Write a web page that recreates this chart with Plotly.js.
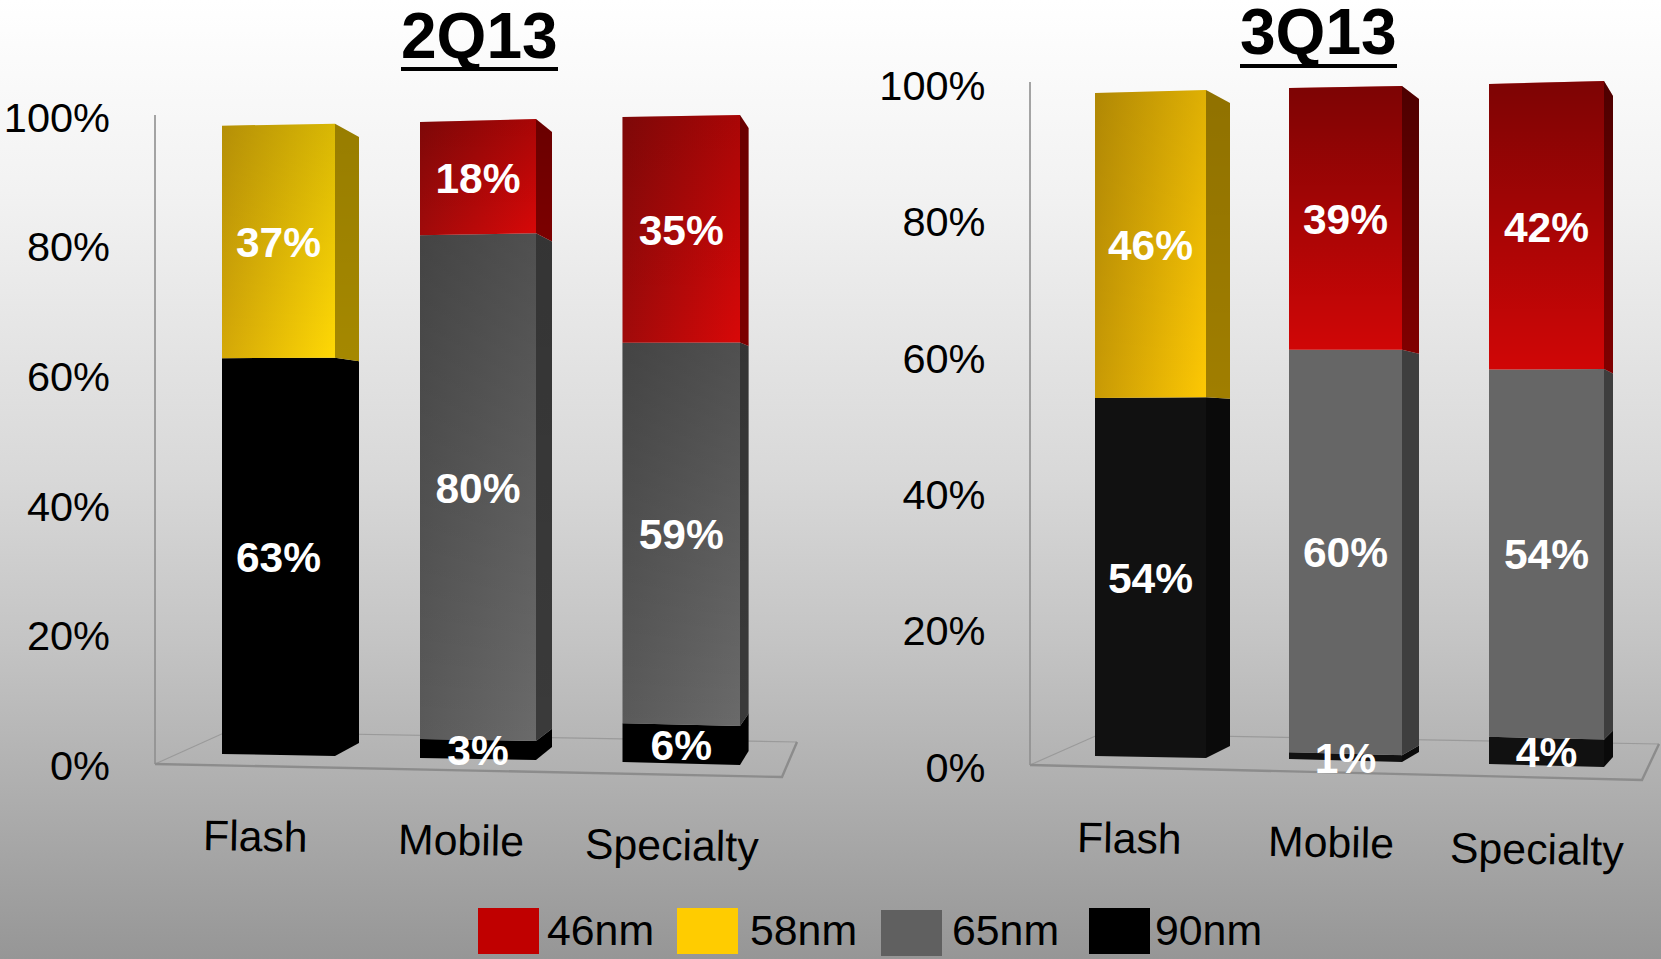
<!DOCTYPE html>
<html>
<head>
<meta charset="utf-8">
<script src="https://cdn.plot.ly/plotly-3.0.1.min.js"></script>
<style>
html,body{margin:0;padding:0;width:1661px;height:959px;overflow:hidden;
background:linear-gradient(to bottom,#ffffff 0%,#f2f2f2 20%,#d8d8d8 50%,#c4c4c4 67%,#969696 100%);}
#chart{width:1661px;height:959px;}
</style>
</head>
<body>
<div id="chart"></div>
<script>
// ---- data ----
const categories = ["Flash", "Mobile", "Specialty"];
const technologies = ["46nm", "58nm", "65nm", "90nm"];
const tickValues = [0, 20, 40, 60, 80, 100];
const tickLabels = ["0%", "20%", "40%", "60%", "80%", "100%"];
const q2_46nm = [null, 18, 35];
const q2_58nm = [37, null, null];
const q2_65nm = [null, 80, 59];
const q2_90nm = [63, 3, 6];
const q3_46nm = [null, 39, 42];
const q3_58nm = [46, null, null];
const q3_65nm = [null, 60, 54];
const q3_90nm = [54, 1, 4];

// ---- page layout (pixels of the 1661x959 page) ----
const W = 1661, H = 959;
const FONT = '"Liberation Sans", Arial, sans-serif';
const legendSwatches = [[478, 539, 908, 954, 548], [677, 738, 908, 954, 751], [881, 942, 910, 956, 953], [1089, 1150, 908, 954, 1156]];
const swatchColors = ["#C00000", "#FFCC00", "#606060", "#000000"];

// perspective box of each column: front left, front right, back right; y of bottom and top at each of those
const panels = [
  {
    title: "2Q13", titleX: 479, titleY: 35.5, rule: [401, 558, 69],
    xaxis: "x", yaxis: "y", xName: "xaxis", yName: "yaxis", left: 111, right: 830,
    zero: 764, full: 115, tickZero: 765.2, tickFull: 117.2,
    floor: {front: [[155, 764], [782, 777], [797, 742]], back: [[155, 764], [226, 732], [797, 742]]},
    series: [q2_90nm, q2_65nm, q2_58nm, q2_46nm],
    boxes: [
      {L: 222, R: 335, S: 359, bot: [754, 756, 743], top: [125.7, 123.7, 137]},
      {L: 420, R: 536, S: 552, bot: [758, 760, 747], top: [122, 119, 132]},
      {L: 622.5, R: 740, S: 748.6, bot: [762, 765, 751], top: [117, 115, 128]}
    ],
    labels: [[255.7, 836], [461, 840], [672, 845]],
    style: [
      {grad: ["#000000", "#000000"], shade: 0, side: "#000000", sideShade: 0},
      {grad: ["#5a5a5a", "#6a6a6a"], shade: 0.25, side: "#3a3a3a", sideShade: 0.1},
      {grad: ["#d4a808", "#ffd805"], shade: 0.15, side: "#a58800", sideShade: 0.08},
      {grad: ["#a00a0a", "#d80808"], shade: 0.22, side: "#7c0000", sideShade: 0.15}
    ]
  },
  {
    title: "3Q13", titleX: 1318, titleY: 32, rule: [1240, 1397, 66],
    xaxis: "x2", yaxis: "y2", xName: "xaxis2", yName: "yaxis2", left: 986.5, right: 1661,
    zero: 765, full: 82, tickZero: 767.4, tickFull: 85.2,
    floor: {front: [[1030, 765], [1642, 780], [1659, 744]], back: [[1030, 765], [1100, 734], [1659, 744]]},
    series: [q3_90nm, q3_65nm, q3_58nm, q3_46nm],
    boxes: [
      {L: 1095, R: 1206, S: 1230, bot: [756, 758, 746], top: [93, 90, 103]},
      {L: 1289, R: 1402, S: 1419, bot: [759, 762, 752], top: [88, 86, 99]},
      {L: 1489, R: 1604, S: 1613, bot: [764, 767, 757], top: [84, 81, 96]}
    ],
    labels: [[1129.4, 838], [1331, 842], [1537, 849]],
    style: [
      {grad: ["#111111", "#111111"], shade: 0, side: "#0a0a0a", sideShade: 0},
      {grad: ["#666666", "#666666"], shade: 0, side: "#3e3e3e", sideShade: 0},
      {grad: ["#c89a05", "#fdc804"], shade: 0.12, side: "#a07e00", sideShade: 0.1},
      {grad: ["#d00606", "#d00606"], shade: 0.4, side: "#800000", sideShade: 0.4}
    ]
  }
];
const order = [3, 2, 1, 0]; // technology index of each stack level, bottom to top

const traces = [], shapes = [], annotations = [];

panels.forEach(function (p) {
  const toY = function (px) { return (p.tickZero - px) / (p.tickZero - p.tickFull) * 100; };
  const lerp = function (a, b, t) { return a + (b - a) * t; };
  const shadeFill = function (amount) {
    return {type: "vertical", colorscale: [[0, "rgba(0,0,0,0)"], [1, "rgba(0,0,0," + amount + ")"]]};
  };

  // floor and wall
  traces.push({type: "scatter", mode: "lines", x: p.floor.back.map(c => c[0]), y: p.floor.back.map(c => toY(c[1])),
    xaxis: p.xaxis, yaxis: p.yaxis, line: {color: "#9a9a9a", width: 1.2}, hoverinfo: "skip"});
  traces.push({type: "scatter", mode: "lines", x: p.floor.front.map(c => c[0]), y: p.floor.front.map(c => toY(c[1])),
    xaxis: p.xaxis, yaxis: p.yaxis, line: {color: "#8c8c8c", width: 2.4}, hoverinfo: "skip"});
  traces.push({type: "scatter", mode: "lines", x: [p.floor.front[0][0], p.floor.front[0][0]], y: [toY(p.zero), toY(p.full)],
    xaxis: p.xaxis, yaxis: p.yaxis, line: {color: "#8f8f8f", width: 1.6}, hoverinfo: "skip"});

  const labelX = [], labelY = [], labelT = [];

  // real stacked bars: the front faces
  p.series.forEach(function (vals, level) {
    const xs = [], ys = [], bases = [], widths = [];
    vals.forEach(function (v, c) {
      const b = p.boxes[c];
      let total = 0, below = 0;
      p.series.forEach(function (s, k) { const n = s[c] || 0; total += n; if (k < level) below += n; });
      xs.push((b.L + b.R) / 2);
      widths.push(b.R - b.L - 2);
      const yAt = function (t) { return lerp((b.bot[0] + b.bot[1]) / 2, (b.top[0] + b.top[1]) / 2, t); };
      if (v === null) { ys.push(null); bases.push(null); return; }
      const y0 = toY(yAt(below / total) - 1.5), y1 = toY(yAt((below + v) / total) + 1.5);
      bases.push(y0); ys.push(y1 - y0);
    });
    traces.push({type: "bar", name: technologies[order[level]], x: xs, y: ys, base: bases, width: widths,
      xaxis: p.xaxis, yaxis: p.yaxis, marker: {color: swatchColors[order[level]], line: {width: 0}},
      customdata: vals, hoverinfo: "skip"});
  });

  // perspective faces of each column, left to right
  p.boxes.forEach(function (b, c) {
    let total = 0;
    p.series.forEach(function (s) { total += s[c] || 0; });
    let below = 0;
    p.series.forEach(function (s, level) {
      const v = s[c];
      if (v === null) return;
      const t0 = below / total, t1 = (below + v) / total;
      below += v;
      const at = function (i, t) { return lerp(b.bot[i], b.top[i], t); };
      const st = p.style[level];
      // side face
      const sx = [b.R, b.S, b.S, b.R, b.R];
      const sy = [at(1, t0), at(2, t0), at(2, t1), at(1, t1), at(1, t0)].map(toY);
      traces.push({type: "scatter", mode: "lines", fill: "toself", hoverinfo: "skip", x: sx, y: sy,
        xaxis: p.xaxis, yaxis: p.yaxis, line: {width: 0}, fillcolor: st.side});
      if (st.sideShade > 0) {
        traces.push({type: "scatter", mode: "lines", fill: "toself", hoverinfo: "skip", x: sx, y: sy,
          xaxis: p.xaxis, yaxis: p.yaxis, line: {width: 0}, fillgradient: shadeFill(st.sideShade)});
      }
      const fx = [b.L, b.R, b.R, b.L, b.L];
      const fy = [at(0, t0), at(1, t0), at(1, t1), at(0, t1), at(0, t0)].map(toY);
      // front face with its left-to-right gradient
      traces.push({type: "scatter", mode: "lines", fill: "toself", hoverinfo: "skip", x: fx, y: fy,
        xaxis: p.xaxis, yaxis: p.yaxis, line: {width: 0},
        fillgradient: {type: "horizontal", colorscale: [[0, st.grad[0]], [1, st.grad[1]]]}});
      // darkening towards the top of the face
      if (st.shade > 0) {
        traces.push({type: "scatter", mode: "lines", fill: "toself", hoverinfo: "skip", x: fx, y: fy,
          xaxis: p.xaxis, yaxis: p.yaxis, line: {width: 0}, fillgradient: shadeFill(st.shade)});
      }
      labelX.push((b.L + b.R) / 2);
      labelY.push(toY(lerp((b.bot[0] + b.bot[1]) / 2, (b.top[0] + b.top[1]) / 2, (t0 + t1) / 2) + 5));
      labelT.push(v + "%");
    });
  });

  // value labels
  traces.push({type: "scatter", mode: "text", x: labelX, y: labelY, text: labelT, textposition: "middle center",
    xaxis: p.xaxis, yaxis: p.yaxis, cliponaxis: false, hoverinfo: "skip",
    textfont: {family: FONT, size: 42.5, color: "#ffffff", weight: 700}});

  // category labels
  categories.forEach(function (name, c) {
    annotations.push({text: name, xref: p.xaxis, yref: p.yaxis, x: p.labels[c][0], y: toY(p.labels[c][1]),
      showarrow: false, xanchor: "center", yanchor: "middle", textangle: 1,
      font: {family: FONT, size: 42.8, color: "#000000"}});
  });

  // panel title with its rule
  annotations.push({text: "<b>" + p.title + "</b>", xref: "paper", yref: "paper", x: p.titleX / W, y: 1 - p.titleY / H,
    showarrow: false, xanchor: "center", yanchor: "middle", font: {family: FONT, size: 64, color: "#000000"}});
  shapes.push({type: "line", xref: "paper", yref: "paper", x0: p.rule[0] / W, x1: p.rule[1] / W,
    y0: 1 - p.rule[2] / H, y1: 1 - p.rule[2] / H, line: {color: "#000000", width: 4}});
});

// legend
technologies.forEach(function (name, i) {
  const s = legendSwatches[i];
  shapes.push({type: "rect", xref: "paper", yref: "paper", x0: s[0] / W, x1: s[1] / W, y0: 1 - s[2] / H, y1: 1 - s[3] / H,
    fillcolor: swatchColors[i], line: {width: 0}});
  annotations.push({text: name, xref: "paper", yref: "paper", x: s[4] / W, y: 1 - 930 / H, showarrow: false,
    xanchor: "left", yanchor: "middle", xshift: -3, font: {family: FONT, size: 42.8, color: "#000000"}});
});

function xAxis(p) {
  return {domain: [p.left / W, p.right / W], range: [p.left, p.right], visible: false, fixedrange: true, anchor: p.yaxis};
}
function yAxis(p) {
  const scale = 100 / (p.tickZero - p.tickFull);
  return {domain: [0, 1], range: [(p.tickZero - H) * scale, p.tickZero * scale], anchor: p.xaxis, tickmode: "array",
    tickvals: tickValues, ticktext: tickLabels, showgrid: false, zeroline: false, showline: false, ticks: "",
    tickfont: {family: FONT, size: 41.5, color: "#000000"}, fixedrange: true};
}

const layout = {
  width: W, height: H, margin: {l: 0, r: 0, t: 0, b: 0, pad: 0},
  paper_bgcolor: "rgba(0,0,0,0)", plot_bgcolor: "rgba(0,0,0,0)",
  showlegend: false, barmode: "overlay", hovermode: false,
  annotations: annotations, shapes: shapes
};
panels.forEach(function (p) { layout[p.xName] = xAxis(p); layout[p.yName] = yAxis(p); });

Plotly.newPlot("chart", traces, layout, {displayModeBar: false, responsive: false});
</script>
</body>
</html>
